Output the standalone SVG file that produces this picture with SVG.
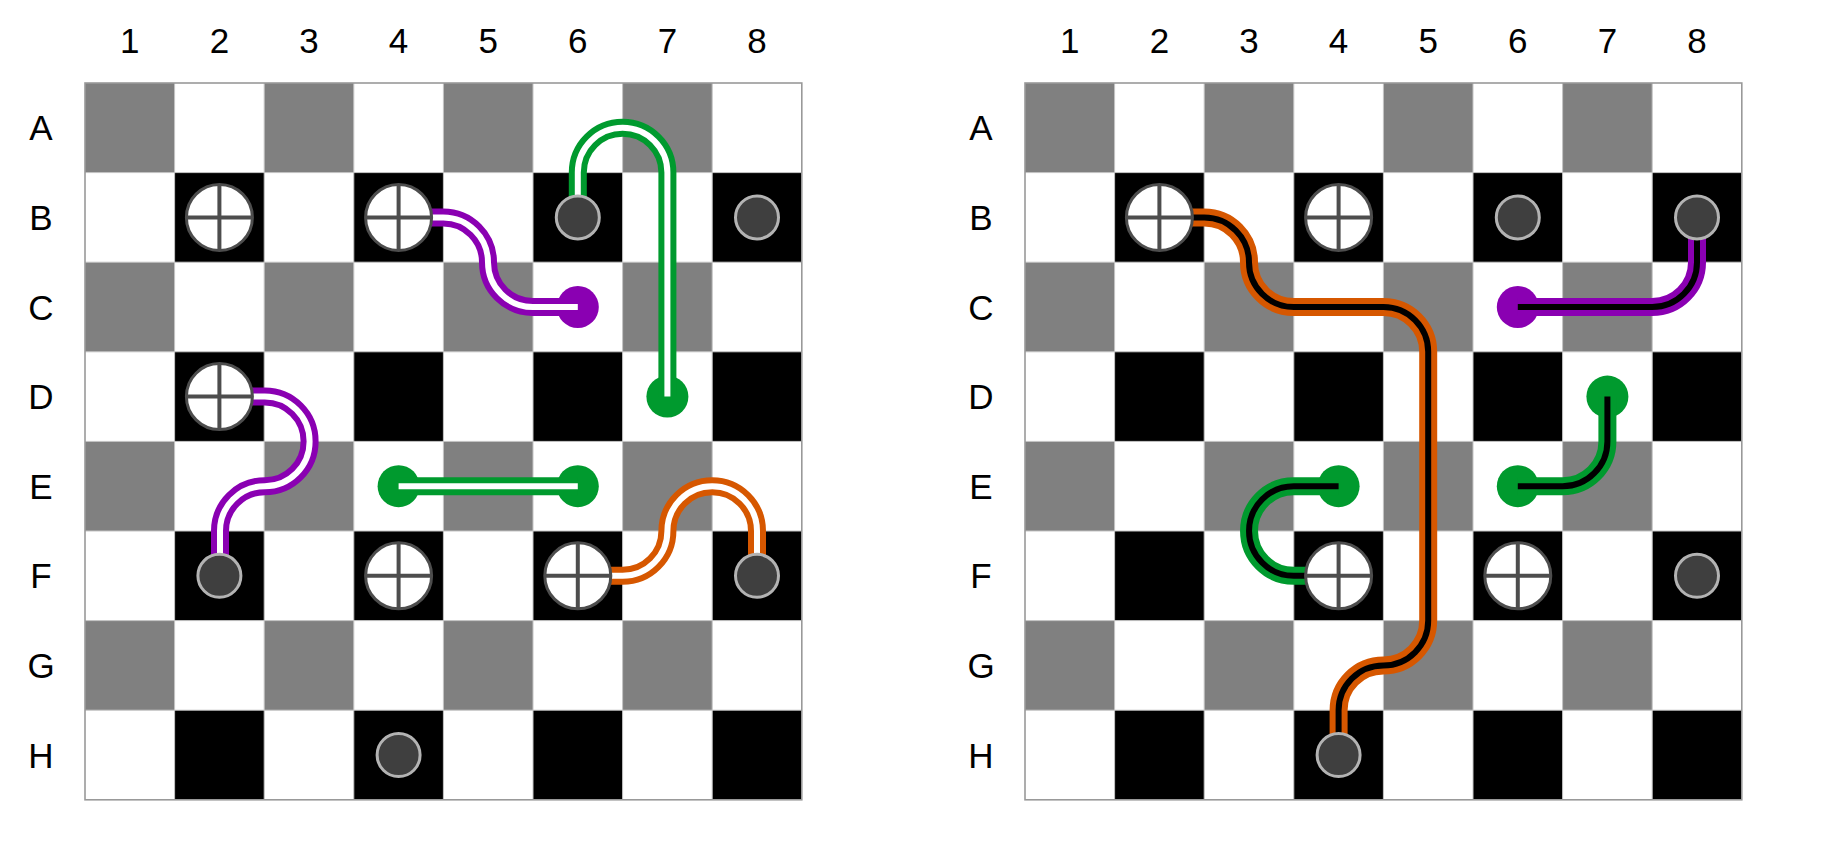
<svg xmlns="http://www.w3.org/2000/svg" xmlns:xlink="http://www.w3.org/1999/xlink" width="1847" height="868" viewBox="0 0 1847 868">
<style>
.lbl{font-family:"Liberation Sans",Arial,sans-serif;font-size:35px;fill:#000;text-anchor:middle}
.grid{fill:none;stroke:#c4c4c4;stroke-width:1}
.border{fill:none;stroke:#999;stroke-width:1.6}
.gray{fill:#808080}
.black{fill:#000}
.out{fill:none;stroke-width:18;stroke-linecap:butt;stroke-linejoin:round}
.inW{fill:none;stroke:#fff;stroke-width:6;stroke-linecap:butt}
.inB{fill:none;stroke:#000;stroke-width:6;stroke-linecap:butt}
.g{stroke:#009a2e}
.p{stroke:#8a00b2}
.o{stroke:#d65700}
.dg{fill:#009a2e}
.dp{fill:#8a00b2}
</style>
<defs>
<g id="blk"><rect class="gray" x="0" y="0" width="89.6" height="89.6"/><rect class="black" x="89.6" y="89.6" width="89.6" height="89.6"/></g>
<g id="board">
<rect x="0" y="0" width="716.8" height="716.8" fill="#fff"/>
<use href="#blk" x="0" y="0"/><use href="#blk" x="179.2" y="0"/><use href="#blk" x="358.4" y="0"/><use href="#blk" x="537.6" y="0"/>
<use href="#blk" x="0" y="179.2"/><use href="#blk" x="179.2" y="179.2"/><use href="#blk" x="358.4" y="179.2"/><use href="#blk" x="537.6" y="179.2"/>
<use href="#blk" x="0" y="358.4"/><use href="#blk" x="179.2" y="358.4"/><use href="#blk" x="358.4" y="358.4"/><use href="#blk" x="537.6" y="358.4"/>
<use href="#blk" x="0" y="537.6"/><use href="#blk" x="179.2" y="537.6"/><use href="#blk" x="358.4" y="537.6"/><use href="#blk" x="537.6" y="537.6"/>
<path class="grid" d="M89.6,0V716.8M179.2,0V716.8M268.8,0V716.8M358.4,0V716.8M448,0V716.8M537.6,0V716.8M627.2,0V716.8M0,89.6H716.8M0,179.2H716.8M0,268.8H716.8M0,358.4H716.8M0,448H716.8M0,537.6H716.8M0,627.2H716.8"/>
<rect class="border" x="0" y="0" width="716.8" height="716.8"/>
</g>
<g id="cross"><circle r="33" fill="#fff" stroke="#4d4d4d" stroke-width="3"/><path d="M-33,0H33M0,-33V33" stroke="#4d4d4d" stroke-width="4"/></g>
<circle id="dark" r="21.5" fill="#3f3f3f" stroke="#b3b3b3" stroke-width="3"/>
</defs>

<g id="labels">
<text class="lbl" x="129.8" y="53">1</text><text class="lbl" x="219.4" y="53">2</text><text class="lbl" x="309" y="53">3</text><text class="lbl" x="398.6" y="53">4</text><text class="lbl" x="488.2" y="53">5</text><text class="lbl" x="577.8" y="53">6</text><text class="lbl" x="667.4" y="53">7</text><text class="lbl" x="757" y="53">8</text>
<text class="lbl" x="41" y="140.4">A</text><text class="lbl" x="41" y="230">B</text><text class="lbl" x="41" y="319.6">C</text><text class="lbl" x="41" y="409.2">D</text><text class="lbl" x="41" y="498.8">E</text><text class="lbl" x="41" y="588.4">F</text><text class="lbl" x="41" y="678">G</text><text class="lbl" x="41" y="767.6">H</text>
<text class="lbl" x="1069.8" y="53">1</text><text class="lbl" x="1159.4" y="53">2</text><text class="lbl" x="1249" y="53">3</text><text class="lbl" x="1338.6" y="53">4</text><text class="lbl" x="1428.2" y="53">5</text><text class="lbl" x="1517.8" y="53">6</text><text class="lbl" x="1607.4" y="53">7</text><text class="lbl" x="1697" y="53">8</text>
<text class="lbl" x="981" y="140.4">A</text><text class="lbl" x="981" y="230">B</text><text class="lbl" x="981" y="319.6">C</text><text class="lbl" x="981" y="409.2">D</text><text class="lbl" x="981" y="498.8">E</text><text class="lbl" x="981" y="588.4">F</text><text class="lbl" x="981" y="678">G</text><text class="lbl" x="981" y="767.6">H</text>
</g>

<g id="boardL" transform="translate(85,83)"><use href="#board"/></g>
<g id="boardR" transform="translate(1025,83)"><use href="#board"/></g>

<g id="dotsL">
<circle id="L-C6" class="dp" cx="577.8" cy="307" r="21"/>
<circle id="L-D7" class="dg" cx="667.4" cy="396.6" r="21"/>
<circle id="L-E4" class="dg" cx="398.6" cy="486.2" r="21"/>
<circle id="L-E6" class="dg" cx="577.8" cy="486.2" r="21"/>
</g>
<g id="dotsR">
<circle id="R-C6" class="dp" cx="1517.8" cy="307" r="21"/>
<circle id="R-D7" class="dg" cx="1607.4" cy="396.6" r="21"/>
<circle id="R-E4" class="dg" cx="1338.6" cy="486.2" r="21"/>
<circle id="R-E6" class="dg" cx="1517.8" cy="486.2" r="21"/>
</g>

<g id="connectors">
<path class="out g" d="M577.8,217.4V172.6A44.8,44.8 0 0 1 667.4,172.6V396.6"/>
<path class="inW" d="M577.8,217.4V172.6A44.8,44.8 0 0 1 667.4,172.6V396.6"/>
<path class="out p" d="M398.6,217.4H443.2A44.8,44.8 0 0 1 488,262.2A44.8,44.8 0 0 0 532.8,307H577.8"/>
<path class="inW" d="M398.6,217.4H443.2A44.8,44.8 0 0 1 488,262.2A44.8,44.8 0 0 0 532.8,307H577.8"/>
<path class="out p" d="M219.4,396.6H264.8A44.8,44.8 0 0 1 264.8,486.2A44.8,44.8 0 0 0 220,531V575.8"/>
<path class="inW" d="M219.4,396.6H264.8A44.8,44.8 0 0 1 264.8,486.2A44.8,44.8 0 0 0 220,531V575.8"/>
<path class="out g" d="M398.6,486.2H577.8"/>
<path class="inW" d="M398.6,486.2H577.8"/>
<path class="out o" d="M577.8,575.8H622.6A44.8,44.8 0 0 0 667.4,531A44.8,44.8 0 0 1 757,531V575.8"/>
<path class="inW" d="M577.8,575.8H622.6A44.8,44.8 0 0 0 667.4,531A44.8,44.8 0 0 1 757,531V575.8"/>

<path class="out o" d="M1159.4,217.4H1204.2A44.8,44.8 0 0 1 1249,262.2A44.8,44.8 0 0 0 1293.8,307H1383.4A44.8,44.8 0 0 1 1428.2,351.8V620.6A44.8,44.8 0 0 1 1383.4,665.4A44.8,44.8 0 0 0 1338.6,710.2V755"/>
<path class="inB" d="M1159.4,217.4H1204.2A44.8,44.8 0 0 1 1249,262.2A44.8,44.8 0 0 0 1293.8,307H1383.4A44.8,44.8 0 0 1 1428.2,351.8V620.6A44.8,44.8 0 0 1 1383.4,665.4A44.8,44.8 0 0 0 1338.6,710.2V755"/>
<path class="out p" d="M1697,217.4V262.2A44.8,44.8 0 0 1 1652.2,307H1517.8"/>
<path class="inB" d="M1697,217.4V262.2A44.8,44.8 0 0 1 1652.2,307H1517.8"/>
<path class="out g" d="M1517.8,486.2H1562.6A44.8,44.8 0 0 0 1607.4,441.4V396.6"/>
<path class="inB" d="M1517.8,486.2H1562.6A44.8,44.8 0 0 0 1607.4,441.4V396.6"/>
<path class="out g" d="M1338.6,486.2H1293.8A44.8,44.8 0 0 0 1293.8,575.8H1338.6"/>
<path class="inB" d="M1338.6,486.2H1293.8A44.8,44.8 0 0 0 1293.8,575.8H1338.6"/>
</g>

<g id="piecesL">
<g id="L-B2"><use href="#cross" x="219.4" y="217.4"/></g>
<g id="L-B4"><use href="#cross" x="398.6" y="217.4"/></g>
<g id="L-D2"><use href="#cross" x="219.4" y="396.6"/></g>
<g id="L-F4"><use href="#cross" x="398.6" y="575.8"/></g>
<g id="L-F6"><use href="#cross" x="577.8" y="575.8"/></g>
<g id="L-B6"><use href="#dark" x="577.8" y="217.4"/></g>
<g id="L-B8"><use href="#dark" x="757" y="217.4"/></g>
<g id="L-F2"><use href="#dark" x="219.4" y="575.8"/></g>
<g id="L-F8"><use href="#dark" x="757" y="575.8"/></g>
<g id="L-H4"><use href="#dark" x="398.6" y="755"/></g>
</g>
<g id="piecesR">
<g id="R-B2"><use href="#cross" x="1159.4" y="217.4"/></g>
<g id="R-B4"><use href="#cross" x="1338.6" y="217.4"/></g>
<g id="R-F4"><use href="#cross" x="1338.6" y="575.8"/></g>
<g id="R-F6"><use href="#cross" x="1517.8" y="575.8"/></g>
<g id="R-B6"><use href="#dark" x="1517.8" y="217.4"/></g>
<g id="R-B8"><use href="#dark" x="1697" y="217.4"/></g>
<g id="R-F8"><use href="#dark" x="1697" y="575.8"/></g>
<g id="R-H4"><use href="#dark" x="1338.6" y="755"/></g>
</g>
</svg>
